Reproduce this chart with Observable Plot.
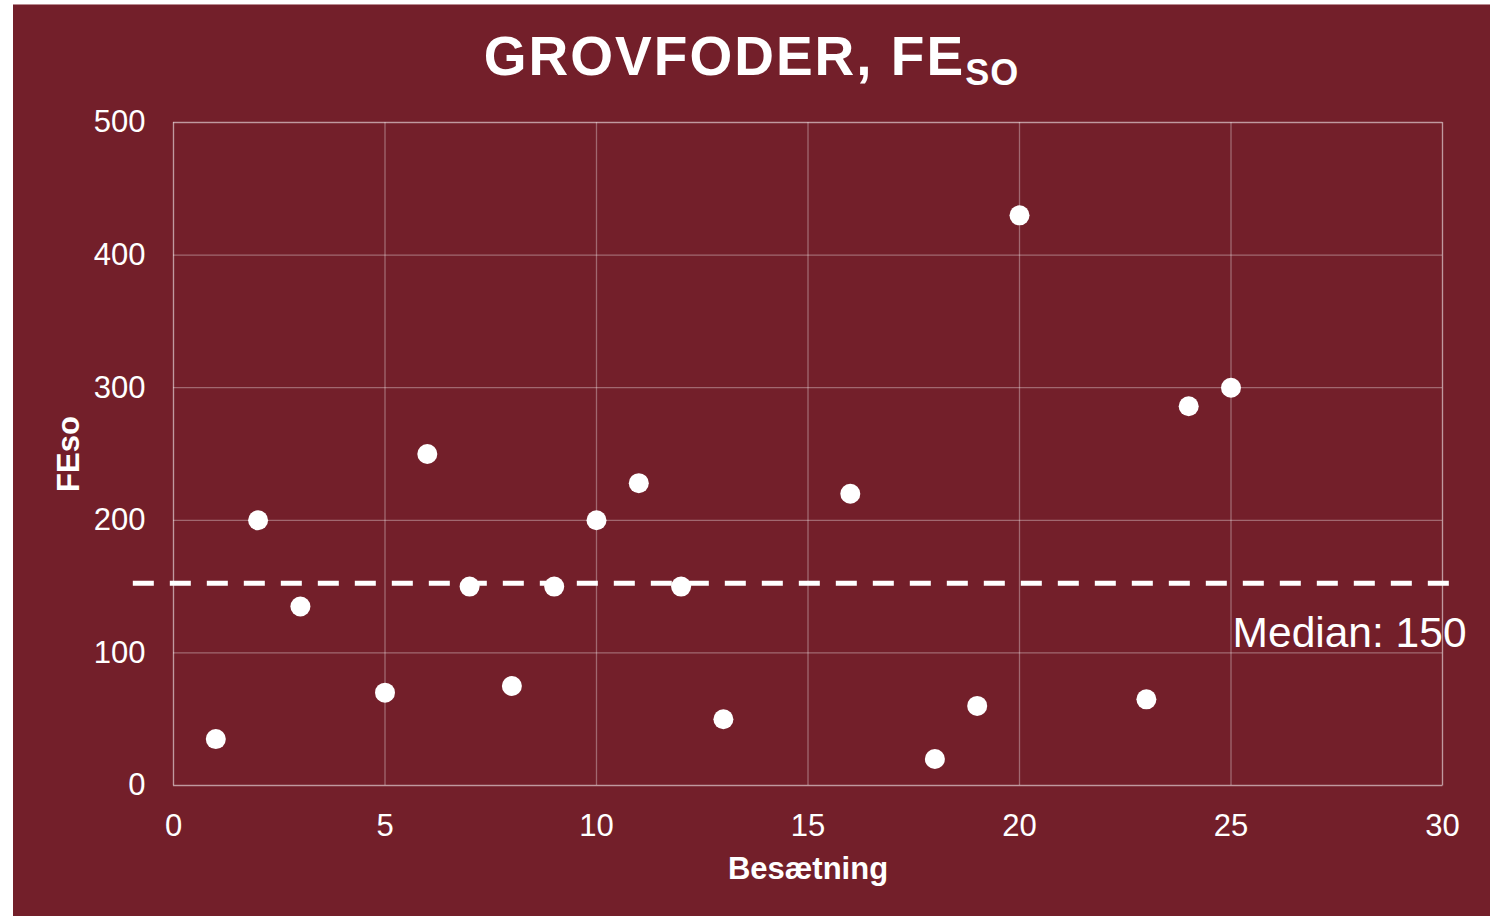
<!DOCTYPE html>
<html>
<head>
<meta charset="utf-8">
<script src="https://cdn.jsdelivr.net/npm/d3@7"></script>
<script src="https://cdn.jsdelivr.net/npm/@observablehq/plot@0.6"></script>
<style>
  html, body { margin: 0; padding: 0; background: #ffffff; width: 1501px; height: 916px; overflow: hidden; }
  #panel { position: absolute; left: 13px; top: 4px; width: 1477px; height: 912px; background: #731F2A; border-top: 1px solid #b98a90; box-sizing: border-box; }
  #title { position: absolute; left: 0; top: 24px; width: 1477px; text-align: center; color: #fff;
    font-family: "Liberation Sans", Arial, sans-serif; font-weight: bold; font-size: 55px; line-height: 55px; letter-spacing: 2px; }
  #title .sub { font-size: 36px; position: relative; top: 10px; letter-spacing: 1px; }
  #chart { position: absolute; left: 0; top: -1px; }
  #chart svg { overflow: visible; }
</style>
</head>
<body>
<div id="panel">
  <div id="title">GROVFODER, FE<span class="sub">SO</span></div>
  <div id="chart"></div>
</div>
<script>
// Data
const besaetning = [1, 2, 3, 5, 6, 7, 8, 9, 10, 11, 12, 13, 16, 18, 19, 20, 23, 24, 25];
const feso       = [35, 200, 135, 70, 250, 150, 75, 150, 200, 228, 150, 50, 220, 20, 60, 430, 65, 286, 300];
const xTicks = [0, 5, 10, 15, 20, 25, 30];
const yTicks = [0, 100, 200, 300, 400, 500];
const medianValue = 150;          // label value
const medianLineY = 152.5;        // where the dashed line sits in the picture
const medianLineX = [-0.95, 30.45]; // extent of the dashed line
const medianLabel = "Median: " + medianValue;
const xLabel = "Besætning";
const yLabel = "FEso";

const data = besaetning.map((b, i) => ({x: b, y: feso[i]}));
const gridColor = "#ffffff";
const gridOpacity = 0.33;

const chart = Plot.plot({
  width: 1477,
  height: 912,
  marginLeft: 160,
  marginRight: 48,
  marginTop: 118,
  marginBottom: 131,
  style: { background: "transparent", color: "#fff", fontFamily: "'Liberation Sans', Arial, sans-serif", fontSize: "31px", overflow: "visible" },
  x: { domain: [0, 30], ticks: xTicks, label: null },
  y: { domain: [0, 500], ticks: yTicks, label: null },
  marks: [
    Plot.gridX(xTicks, { stroke: gridColor, strokeOpacity: gridOpacity, strokeWidth: 1.3 }),
    Plot.gridY(yTicks, { stroke: gridColor, strokeOpacity: gridOpacity, strokeWidth: 1.3 }),
    Plot.frame({ stroke: gridColor, strokeOpacity: gridOpacity, strokeWidth: 1.3 }),
    Plot.axisX(xTicks, { tickSize: 0, tickPadding: 28, fontSize: 31, fill: "#fff", label: null }),
    Plot.axisY(yTicks, { tickSize: 0, tickPadding: 28, fontSize: 31, fill: "#fff", label: null }),
    Plot.ruleY([medianLineY], { x1: medianLineX[0], x2: medianLineX[1], stroke: "#fff", strokeWidth: 5, strokeDasharray: "21,16" }),
    Plot.text([medianLabel], { x: medianLineX[1], y: medianLineY, text: d => d, textAnchor: "end", lineAnchor: "bottom", dx: 5, dy: 64, fill: "#fff", fontSize: 42.5 }),
    Plot.dot(data, { x: "x", y: "y", r: 10, fill: "#fff", stroke: null }),
    Plot.text([xLabel], { frameAnchor: "bottom", text: d => d, lineAnchor: "bottom", dy: 93, fill: "#fff", fontSize: 31, fontWeight: "bold" }),
    Plot.text([yLabel], { frameAnchor: "left", text: d => d, rotate: -90, textAnchor: "middle", lineAnchor: "bottom", dx: -95, fill: "#fff", fontSize: 31, fontWeight: "bold" })
  ]
});
document.getElementById("chart").appendChild(chart);
</script>
</body>
</html>
